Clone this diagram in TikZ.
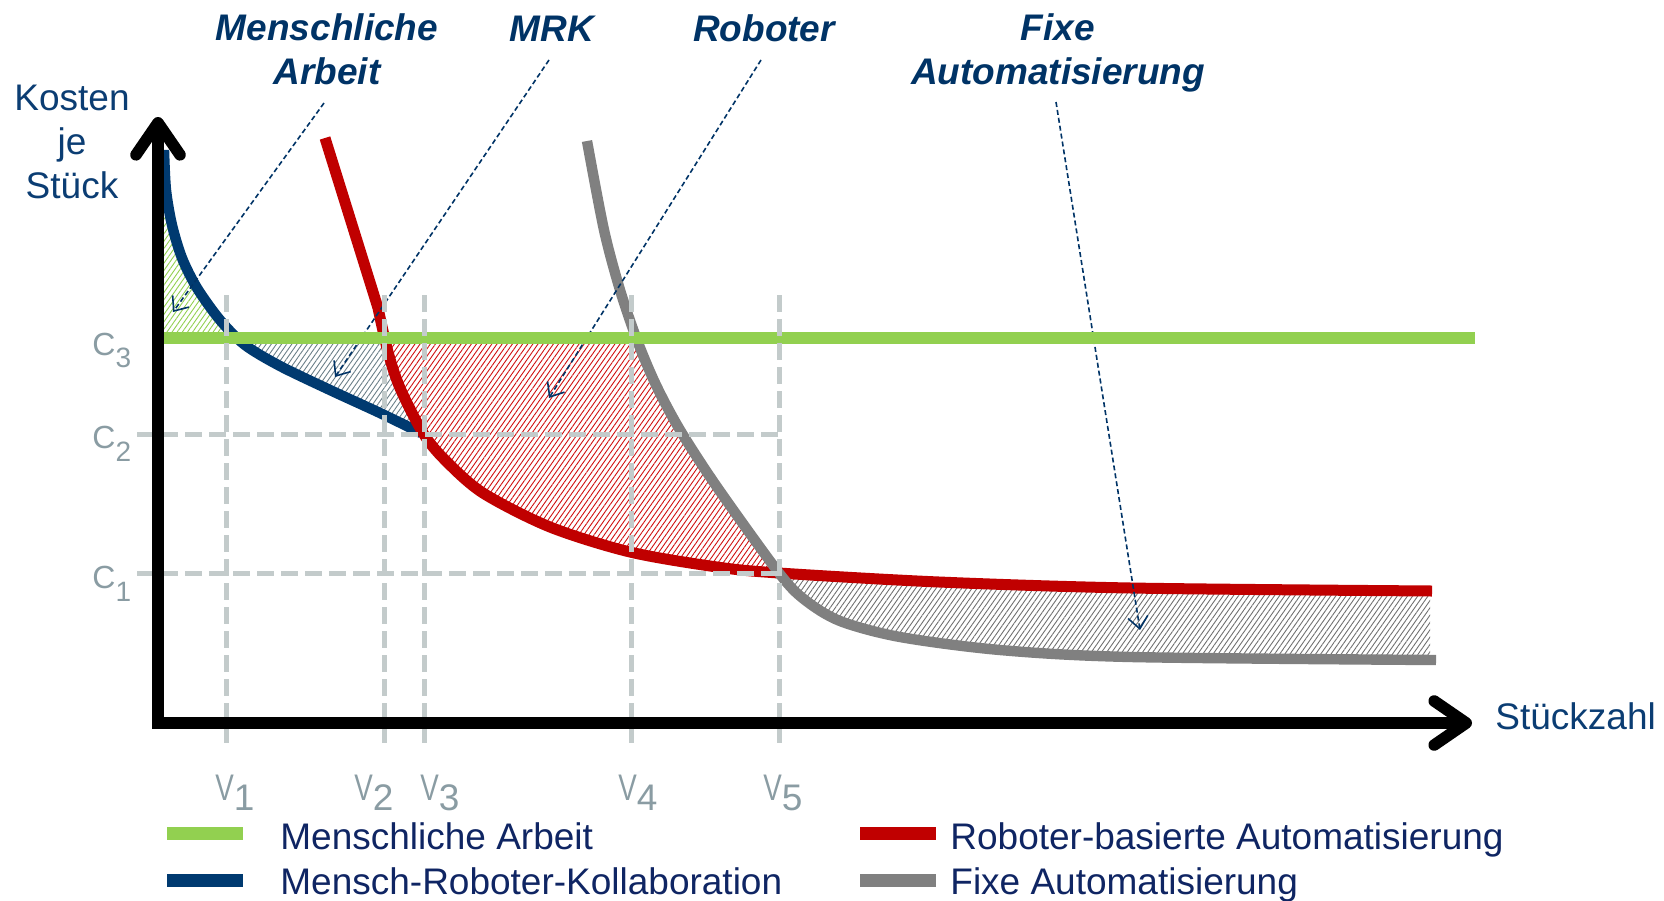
\documentclass[tikz,border=0pt]{standalone}
\usepackage{fontspec}
\setmainfont{Liberation Sans}
\usetikzlibrary{arrows.meta,patterns.meta}

\definecolor{mrkblue}{HTML}{003A70}
\definecolor{robred}{HTML}{C00000}
\definecolor{fixgray}{HTML}{808080}
\definecolor{humgreen}{HTML}{92D050}
\definecolor{gridgray}{HTML}{C3CBCB}
\definecolor{labelgray}{HTML}{8A9CA3}
\definecolor{textnavy}{HTML}{0B3D73}
\definecolor{titlenavy}{HTML}{003366}
\definecolor{legendnavy}{HTML}{0F2563}
\definecolor{hatchslate}{HTML}{6B7F88}
\definecolor{hatchgray}{HTML}{707070}
\definecolor{hatchred}{HTML}{D01010}
\definecolor{hatchgreen}{HTML}{92D050}

% cost curves (1 unit = 1px, y grows downwards)
\def\navycurve{plot[smooth] coordinates {(164,150) (166,190) (172,225) (182,258) (197,288) (220,320) (245,345) (280,366) (330,390) (380,413) (421,433)}}
\def\redcurve{(325,138) -- plot[smooth] coordinates {(378,308) (388,352) (400,388) (423,433) (445,460) (483,493) (550,527) (630,552) (717,567) (779,573) (939,582) (1131,588) (1432,591)}}
\def\graycurve{plot[smooth] coordinates {(587,141) (604,230) (620,290) (637,340) (656,385) (680,430) (717,487) (779,573) (805,600) (840,621) (900,637) (1000,650) (1131,657) (1436,660)}}

\begin{document}
\begin{tikzpicture}[x=0.5pt,y=-0.5pt,
  hatch/.style={pattern={Lines[angle=55,distance=2.1pt,line width=0.45pt]}},
  curve/.style={line width=5.2pt},
  gridline/.style={gridgray,line width=2.5pt,dash pattern=on 8.5pt off 3.5pt},
  annot/.style={titlenavy,line width=0.8pt,dash pattern=on 2.5pt off 1.5pt,
    -{Straight Barb[length=6pt,width=10pt,line width=0.8pt]}},
  axisline/.style={line width=5.8pt,line join=miter,
    {Straight Barb[length=16pt,width=22pt,round]}-{Straight Barb[length=16pt,width=22pt,round]}},
  title/.style={font=\fontsize{18.5}{22}\selectfont\bfseries\itshape,text=titlenavy,inner sep=0pt,align=center},
  axlabel/.style={font=\fontsize{18.5}{22}\selectfont,text=textnavy,inner sep=0pt,align=center},
  legtext/.style={font=\fontsize{18.5}{22}\selectfont,text=legendnavy,inner sep=0pt,anchor=base west},
  swatch/.style={minimum width=38pt,minimum height=6.5pt,inner sep=0pt},
  clabel/.style={font=\fontsize{16}{16}\selectfont,text=labelgray,inner sep=0pt,anchor=base west},
  vlabel/.style={font=\fontsize{18.5}{18.5}\selectfont,text=labelgray,inner sep=0pt,anchor=base west}]

\useasboundingbox (0,0) rectangle (1664,900);

% hatched areas
\begin{scope}
  \clip \navycurve -- (421,500) -- (150,500) -- (150,150) -- cycle;
  \fill[hatch,pattern color=hatchgreen] (158,140) rectangle (245,333);
\end{scope}
\begin{scope}
  \clip \navycurve -- (421,140) -- (164,140) -- cycle;
  \clip \redcurve -- (1432,800) -- (150,800) -- (150,138) -- cycle;
  \fill[hatch,pattern color=hatchslate] (215,344) rectangle (430,440);
\end{scope}
\begin{scope}
  \clip \redcurve -- (1432,100) -- (325,100) -- cycle;
  \clip \graycurve -- (1436,800) -- (150,800) -- (150,141) -- cycle;
  \fill[hatch,pattern color=hatchred] (380,344) rectangle (790,580);
\end{scope}
\begin{scope}
  \clip \redcurve -- (1432,800) -- (150,800) -- (150,138) -- cycle;
  \clip \graycurve -- (1436,100) -- (587,100) -- cycle;
  \fill[hatch,pattern color=hatchgray] (779,560) rectangle (1430,670);
\end{scope}

% cost curves
\draw[curve,mrkblue] \navycurve;
\draw[curve,robred,line width=5.5pt] \redcurve;
\draw[curve,fixgray] \graycurve;

% titles and pointers
\node[title,anchor=north] (tHum) at (327,13) {Menschliche\\Arbeit};
\node[title,anchor=base] (tMrk) at (552,41) {MRK};
\node[title,anchor=base] (tRob) at (764,41) {Roboter};
\node[title,anchor=north] (tFix) at (1058,13) {Fixe\\Automatisierung};

\coordinate (pHum) at (324,103);  \coordinate (eHum) at (173,312);
\coordinate (pMrk) at (549,60);   \coordinate (eMrk) at (335,377);
\coordinate (pRob) at (761,60);   \coordinate (eRob) at (549,398);
\coordinate (pFix) at (1056,102); \coordinate (eFix) at (1140,630);
\draw[annot] (pHum) -- (eHum);
\draw[annot] (pMrk) -- (eMrk);
\draw[annot] (pRob) -- (eRob);
\draw[annot] (pFix) -- (eFix);

% human labour level
\draw[humgreen,line width=6pt] (158,338) -- (1475,338);

% reference lines
\foreach \vx in {226,384,424,631,779}
  \draw[gridline] (\vx,295) -- (\vx,743);
\draw[gridline] (137,434) -- (779,434);
\draw[gridline] (137,573) -- (779,573);

% axes
\coordinate (ytip) at (158,117);
\coordinate (origin) at (158,723);
\coordinate (xtip) at (1472,723);
\draw[axisline] (ytip) -- (origin) -- (xtip);

\node[axlabel,anchor=north] (yLab) at (72,85) {Kosten\\je\\Stück};
\node[axlabel,anchor=base west] (xLab) at (1495,729) {Stückzahl};

% level labels
\node[clabel] (c3) at (92,355) {C\raisebox{-6pt}{\fontsize{14}{14}\selectfont 3}};
\node[clabel] (c2) at (92,448) {C\raisebox{-6.5pt}{\fontsize{14}{14}\selectfont 2}};
\node[clabel] (c1) at (92,588) {C\raisebox{-6.5pt}{\fontsize{14}{14}\selectfont 1}};

\node[vlabel] (v1) at (215,800) {\scalebox{0.75}[1]{V}\raisebox{-5pt}{1}};
\node[vlabel] (v2) at (354,800) {\scalebox{0.75}[1]{V}\raisebox{-5pt}{2}};
\node[vlabel] (v3) at (420,800) {\scalebox{0.75}[1]{V}\raisebox{-5pt}{3}};
\node[vlabel] (v4) at (618,800) {\scalebox{0.75}[1]{V}\raisebox{-5pt}{4}};
\node[vlabel] (v5) at (763,800) {\scalebox{0.75}[1]{V}\raisebox{-5pt}{5}};

% legend
\node[swatch,fill=humgreen] (sHum) at (205,833.5) {};
\node[legtext] (lHum) at (280,849) {Menschliche Arbeit};
\node[swatch,fill=mrkblue] (sMrk) at (205,880.5) {};
\node[legtext] (lMrk) at (280,894) {Mensch-Roboter-Kollaboration};
\node[swatch,fill=robred] (sRob) at (898,833.5) {};
\node[legtext] (lRob) at (950,849) {Roboter-basierte Automatisierung};
\node[swatch,fill=fixgray] (sFix) at (898,880.5) {};
\node[legtext] (lFix) at (950,894) {Fixe Automatisierung};
\end{tikzpicture}
\end{document}
